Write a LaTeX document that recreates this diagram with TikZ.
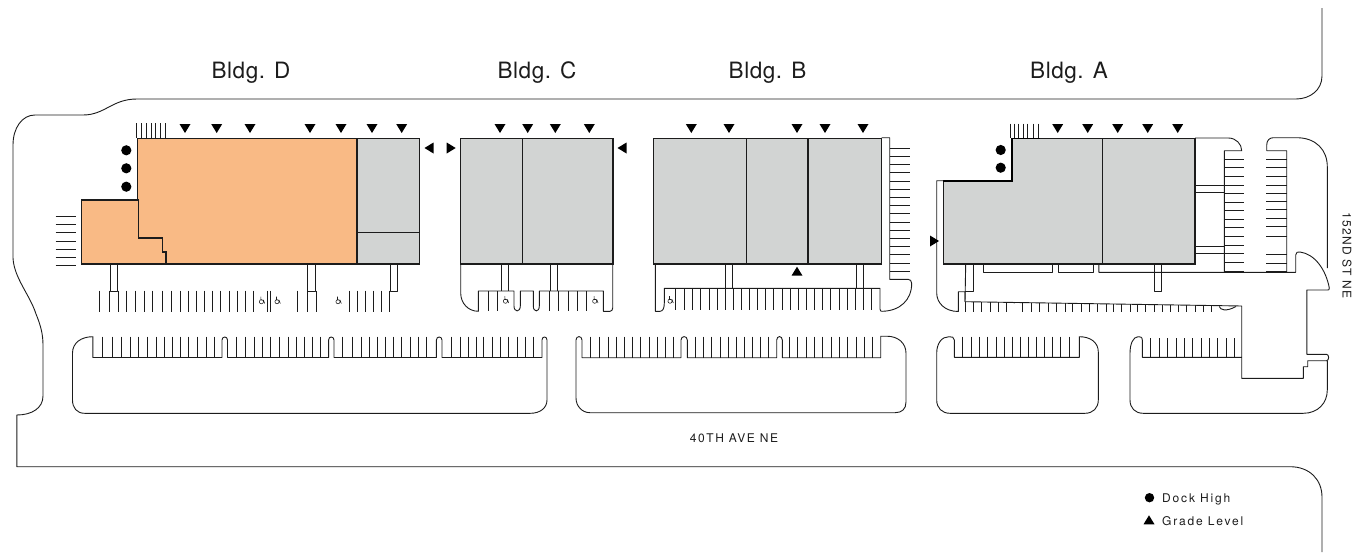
\documentclass[tikz,border=0pt]{standalone}
\usepackage{fontspec}
\setmainfont{TeX Gyre Heros}
\newfontfamily\bldgfont[LetterSpace=2.5]{TeX Gyre Heros}
\newfontfamily\avefont[LetterSpace=12.8]{TeX Gyre Heros}
\newfontfamily\stfont[LetterSpace=10]{TeX Gyre Heros}
\newfontfamily\legendfont[LetterSpace=15]{TeX Gyre Heros}
\definecolor{orangefill}{HTML}{F9BA85}
\definecolor{grayfill}{HTML}{D2D4D3}
\definecolor{inkline}{HTML}{1C1C1C}
\tikzset{
  site/.style={draw=inkline,line width=0.9pt,line join=round},
  stripe/.style={draw=inkline,line width=0.85pt},
  bldg/.style={draw=inkline,line width=1.05pt,line join=miter},
  heavy/.style={draw=black,line width=1.6pt,line join=miter},
  bldglabel/.style={font=\fontsize{22.5}{26}\selectfont\bldgfont,text=inkline,inner sep=0pt},
  avelabel/.style={font=\fontsize{12}{14}\selectfont\avefont,text=inkline,inner sep=0pt},
  stlabel/.style={font=\fontsize{12}{14}\selectfont\stfont,text=inkline,inner sep=0pt},
  legendlabel/.style={font=\fontsize{12}{14}\selectfont\legendfont,text=inkline,inner sep=0pt,anchor=west},
  tridown/.pic={\fill[black] (-5.5,-4.5) -- (5.5,-4.5) -- (0,4.5) -- cycle;},
  triup/.pic={\fill[black] (-5.5,4.5) -- (5.5,4.5) -- (0,-4.5) -- cycle;},
  trileft/.pic={\fill[black] (-4.5,0) -- (4.5,-5.5) -- (4.5,5.5) -- cycle;},
  triright/.pic={\fill[black] (4.5,0) -- (-4.5,-5.5) -- (-4.5,5.5) -- cycle;},
  dockdot/.pic={\fill[black] (0,0) circle (5.1);},
  hcicon/.pic={\draw[line width=0.55pt,draw=inkline] (-0.3,1.2) circle (2.1) (-0.8,-3.8) -- (-0.8,-0.4) -- (1.8,-0.4) -- (3,3);},
}
\begin{document}
\begin{tikzpicture}[x=1pt,y=-1pt]
\useasboundingbox (0,0) rectangle (1353,554);
% buildings
\fill[orangefill] (137.3,138.3) -- (357,138.3) -- (357,264) -- (81.5,264) -- (81.5,200) -- (137.3,200) -- cycle;
\fill[grayfill] (357,138.3) rectangle (419.3,264);
\path[bldg] (137.3,200) -- (137.3,138.3) -- (419.3,138.3) -- (419.3,264) -- (81.5,264) -- (81.5,200) -- (138.7,200) -- (138.7,238) -- (162.5,238) -- (162.5,252) -- (166,252) -- (166,264);
\path[bldg] (357,138.3) -- (357,264) (357,232.7) -- (419.3,232.7);
\path[bldg,fill=grayfill] (460.7,138.3) rectangle (613,264);
\path[bldg] (522.3,138.3) -- (522.3,264);
\path[bldg,fill=grayfill] (653.7,138.3) rectangle (881.7,264);
\path[bldg] (746.3,138.3) -- (746.3,264) (808,138.3) -- (808,264);
\path[bldg,fill=grayfill] (1011.7,138.3) -- (1195,138.3) -- (1195,264) -- (943.3,264) -- (943.3,180.7) -- (1011.7,180.7) -- cycle;
\path[bldg] (1102.3,138.3) -- (1102.3,264);
\path[heavy] (943.3,180.7) -- (1011.7,180.7) -- (1011.7,138.3) -- (1040,138.3);
% site boundary
\path[site] (1322,8) -- (1322,76) .. controls (1322,90) and (1310,99) .. (1296,99) -- (137,99) .. controls (112,99) and (105,115) .. (83,115) -- (35,115) .. controls (22,115) and (13,128) .. (13,145) -- (13,258) .. controls (14,278) and (30,295) .. (36,314) .. controls (41,326) and (43,335) .. (43,345) -- (43,396) .. controls (43,408) and (32,415) .. (16.8,415) -- (16.8,466.7) -- (1290,466.7) .. controls (1310,466.7) and (1322,480) .. (1322,497) -- (1322,552);
% long island, Bldg D
\path[site] (72.5,353) .. controls (72.5,343) and (81,336.7) .. (92.9,336.7) -- (92.9,357.5) -- (222,357.5) -- (222,340) .. controls (222,336) and (227.5,336) .. (227.5,340) -- (227.5,357.5) -- (328.6,357.5) -- (328.6,340) .. controls (328.6,336) and (334,336) .. (334,340) -- (334,357.5) -- (436.4,357.5) -- (436.4,340) .. controls (436.4,336) and (442,336) .. (442,340) -- (442,357.5) -- (542,357.5) -- (542,340) .. controls (542,336) and (547,336) .. (547,340) -- (547,400) .. controls (547,408) and (540,413.3) .. (530.4,413.3) -- (84.6,413.3) .. controls (77,413.3) and (72.5,408) .. (72.5,400) -- cycle;
\foreach \x in {102.9,112.5,121.4,130.4,138.6,147.1,156,164.3,172.5,180.4,188.6,197.1,206,214.3,236.4,245.7,254.3,262.5,270.7,279.6,288.2,296.4,304.3,312.5,320.7,342.9,352.9,361.4,369.6,377.9,385.7,393.9,401.8,410,418.6,426.8,451.8,460.7,468.6,476.8,483.9,492.1,500.7,508.9,517.1,525,533.9}
  \path[stripe] (\x,336.7) -- (\x,357.5);
% middle island
\path[site] (576,340) .. controls (576,335.5) and (582,335.5) .. (582,340) -- (582,357.7) -- (681,357.7) -- (681,340) .. controls (681,335.5) and (687.3,335.5) .. (687.3,340) -- (687.3,357.7) -- (776.7,357.7) -- (776.7,340) .. controls (776.7,335.5) and (782.3,335.5) .. (782.3,340) -- (782.3,357.7) -- (880.7,357.7) -- (880.7,336.2) -- (886.7,336.2) .. controls (898,336.2) and (906,343) .. (906,353.3) -- (906,402) .. controls (906,409) and (902,412.7) .. (895,412.7) -- (590,412.7) .. controls (582,412.7) and (576,406) .. (576,398) -- cycle;
\foreach \x in {590.3,599.3,608.3,616.7,624.3,632.7,640.7,649.3,657,665,673.3,695,703.3,711.3,720,728.3,736,744.3,752.3,760,768.3,789.3,797.7,806,814.3,822.7,831,839,847.7,856,864,872.3}
  \path[stripe] (\x,336.7) -- (\x,357.7);
% island, Bldg A
\path[site] (954.3,357.3) -- (1079.3,357.3) -- (1079.3,336.7) .. controls (1090,336.7) and (1098.3,342) .. (1098.3,352) -- (1098.3,400) .. controls (1098.3,408) and (1093,413.3) .. (1085,413.3) -- (950,413.3) .. controls (942,413.3) and (936.7,408) .. (936.7,400) -- (936.7,353.3) .. controls (936.7,343) and (942,336.7) .. (949,336.7) .. controls (952,336.7) and (954.3,337) .. (954.3,340) -- cycle;
\foreach \x in {962.7,971,979.3,987.7,996,1004,1012,1020,1028.3,1036.7,1044.7,1052.7,1060.7,1069.3}
  \path[stripe] (\x,336.7) -- (\x,357.3);
% corner island
\path[site] (1241.7,357.3) -- (1142.3,357.3) -- (1142.3,340) .. controls (1142.3,336.7) and (1140,336.7) .. (1138,336.7) .. controls (1133,337) and (1130,344) .. (1130,353.3) -- (1130,400) .. controls (1130,408) and (1135,413.3) .. (1143.3,413.3) -- (1303.3,413.3) .. controls (1318,413.3) and (1327.3,403) .. (1327.3,390) -- (1327.3,360.7) -- (1307.7,360.7) -- (1307.7,366.7) -- (1303.3,366.7) -- (1303.3,378.3) -- (1241.7,378.3) -- (1241.7,306) -- (965,301.7) -- (965,291.7) -- (958.3,291.7) -- (958.3,311.5) .. controls (945,311.5) and (936.7,303) .. (936.7,293) -- (936.7,180.7) -- (943.3,180.7);
\foreach \x in {1150.7,1159.3,1167.3,1176,1184.3,1192.7,1201,1209.3,1217.7,1226,1234.3}
  \path[stripe] (\x,338) -- (\x,357.3);
\path[site] (1219.3,306.4) .. controls (1220,310) and (1226,312) .. (1236,306.5);
\foreach \x in {965,973.3,981.7,990,998.3,1006.7,1022.3,1031,1039.3,1048.3,1056.7,1065,1072.7,1081,1089.3,1097.7,1106,1113.3,1121.7,1130,1137.3,1145.7,1154,1162,1170,1178.3,1186.7,1195,1203.3,1211.7}
{ \pgfmathsetmacro{\ytop}{301.7+(\x-965)*0.0155}
  \path[stripe] (\x,\ytop) -- (\x,311.5); }
% Bldg A surroundings, right side
\path[site] (1195,138) -- (1228.3,138) .. controls (1236,138) and (1241.7,144) .. (1241.7,150.7) -- (1224.3,150.7) -- (1224.3,272.3);
\path[site] (1098.8,264) -- (1098.8,272.3) -- (1295.7,272.3) -- (1295.7,255) .. controls (1295.7,252) and (1298,251.7) .. (1300,252) .. controls (1315,254) and (1326,270) .. (1329.3,288) .. controls (1329.5,290) and (1328.5,290) .. (1327.7,290) -- (1306.8,290) -- (1306.8,354.3) -- (1326.5,354.3) .. controls (1329.3,354.3) and (1329.3,360.7) .. (1326.5,360.7);
\path[site] (1286.7,272.3) -- (1286.7,150.7) -- (1266.7,150.7) -- (1266.7,145) .. controls (1266.7,140) and (1270,137.7) .. (1273.3,137.7) -- (1296.7,137.7) .. controls (1316,137.7) and (1327.3,150) .. (1327.3,166.7) -- (1327.3,268);
\path[site] (983.7,264) -- (983.7,272.5) -- (1052.7,272.5) -- (1052.7,264);
\path[site] (1058.3,264) -- (1058.3,272.5) -- (1093.7,272.5) -- (1093.7,264);
\path[site] (1154,264) -- (1154,291.7) -- (1161.3,291.7) -- (1161.3,264);
\path[site] (965.7,264) -- (965,301.7);
\path[site] (973.3,264) -- (973.3,291.7) -- (965,291.7);
\path[site] (1195,185.7) -- (1224.3,185.7) (1195,192.3) -- (1224.3,192.3);
\path[site] (1195,246) -- (1224.3,246) (1195,253.3) -- (1224.3,253.3);
\foreach \y in {159,167.3,176,185,193.3,202,210.7,219.3,227.7,236.7,245,253.7,262.3,271}
  \path[stripe] (1224.3,\y) -- (1244,\y);
\foreach \y in {159,167.3,176,185,193.3,201,209.3,218,226.7,236,254.3,263.3,271}
  \path[stripe] (1266,\y) -- (1286.7,\y);
\foreach \x in {1010,1014.3,1018.7,1023.3,1027.7,1033.3,1038.3}
  \path[stripe] (\x,123.7) -- (\x,138.3);
% Bldg D surroundings
\foreach \x in {136.7,141.7,146.7,151.7,155.7,160.3,165.7}
  \path[stripe] (\x,123.3) -- (\x,138.3);
\foreach \y in {216.7,224.7,232.7,241,249,257.7,265.7}
  \path[stripe] (55.7,\y) -- (76.3,\y);
\foreach \a/\b in {110.3/117.3,307.7/315,390.3/397.3}
  \path[site] (\a,264) -- (\a,291) -- (\b,291) -- (\b,264);
\foreach \x in {99.3,109.3,118.3,126.7,135.7,144,152.7,162.3,171,180,188.3,196.7,204.3,212.7,220.7,229,237,245,253.3,267.7,270.3,297.3,307.3,316.7,349,357,365,373.3,381.7,389}
  \path[stripe] (\x,290.7) -- (\x,311.7);
% Bldg C surroundings
\path[site] (460.7,264) -- (460.7,293) .. controls (460.7,303) and (468,311.3) .. (478.3,311.3) -- (478.3,291) -- (514,291) -- (514,306) .. controls (514,312.5) and (520.3,312.5) .. (520.3,306) -- (520.3,291) -- (533.3,291) -- (533.3,306) .. controls (533.3,312.5) and (539.3,312.5) .. (539.3,306) -- (539.3,291) -- (603.3,291) -- (603.3,311.3) -- (610,311.3) .. controls (611.5,311.3) and (612.7,310) .. (612.7,308) -- (612.7,264);
\foreach \a/\b in {501.7/508.3,550.7/557.7}
  \path[site] (\a,264) -- (\a,291) (\b,264) -- (\b,291);
\foreach \x in {488.3,497.5,549.3,558.7,568,577.3,586.6}
  \path[stripe] (\x,291) -- (\x,311.3);
% Bldg B surroundings
\path[site] (655.3,264) -- (655.3,311.3) -- (660,311.3) .. controls (663,311.3) and (664.3,308) .. (664.3,303) -- (664.3,288.3) -- (880,288.3) -- (880,309) .. controls (880,311) and (881,311.3) .. (882,311.3) .. controls (900,311) and (911.7,300) .. (911.7,283.3) .. controls (911.7,281) and (910,279.3) .. (908.3,279.3) -- (889.7,279.3) -- (889.7,137.7) -- (881.7,137.7);
\foreach \a/\b in {725.3/732.7,856/863.3}
  \path[site] (\a,264) -- (\a,288.3) (\b,264) -- (\b,288.3);
\foreach \x in {675.7,684,692.3,700.7,709,717.3,725,733.3,741,749.3,757.7,765.7,773.7,782,790,798.3,806.3,814.3,822.3,830.7,839,847.3,855.7,863.3,871.7}
  \path[stripe] (\x,288.3) -- (\x,310);
\foreach \y in {148,156.3,164.3,172.7,181,189,197.3,205.3,213.7,222,230,238.3,246.7,254.7,263,271}
  \path[stripe] (889.7,\y) -- (909.7,\y);
% accessible-space icons
\foreach \x/\y in {261.7/300.5,277.3/300.5,338.3/300.5,505.7/300,595/300,670.3/300}
  \path (\x,\y) pic {hcicon};
\fill[inkline] (1014,302.7) circle (0.8);
% door markers
\foreach \x in {185,216.7,250,310,341,372,401.7,500,527.7,555.3,589.3,691.3,729,797,825,863,1057.7,1087.7,1117.7,1147.7,1177.7}
  \path (\x,128.5) pic {tridown};
\path (429,148) pic {trileft};
\path (622,148) pic {trileft};
\path (451.2,148) pic {triright};
\path (934.5,241) pic {triright};
\path (797,271.2) pic {triup};
\foreach \x/\y in {126.3/150.3,126.3/168.3,126.3/186.7,1000.7/150,1000.7/167.7}
  \path (\x,\y) pic {dockdot};
% labels
\node[bldglabel] (ld) at (251,72.5) {Bldg. D};
\node[bldglabel] (lc) at (537,72.5) {Bldg. C};
\node[bldglabel] (lb) at (767.5,72.5) {Bldg. B};
\node[bldglabel] (la) at (1069,72.5) {Bldg. A};
\node[avelabel] (ave) at (734,438) {40TH AVE NE};
\node[stlabel,rotate=-90] (st) at (1347,255.5) {152ND ST NE};
\fill[black] (1149.5,497.7) circle (4.7);
\path (1149,519.8) pic {triup};
\node[legendlabel] (dh) at (1162,499) {Dock High};
\node[legendlabel] (gl) at (1162,521) {Grade Level};
\end{tikzpicture}
\end{document}
